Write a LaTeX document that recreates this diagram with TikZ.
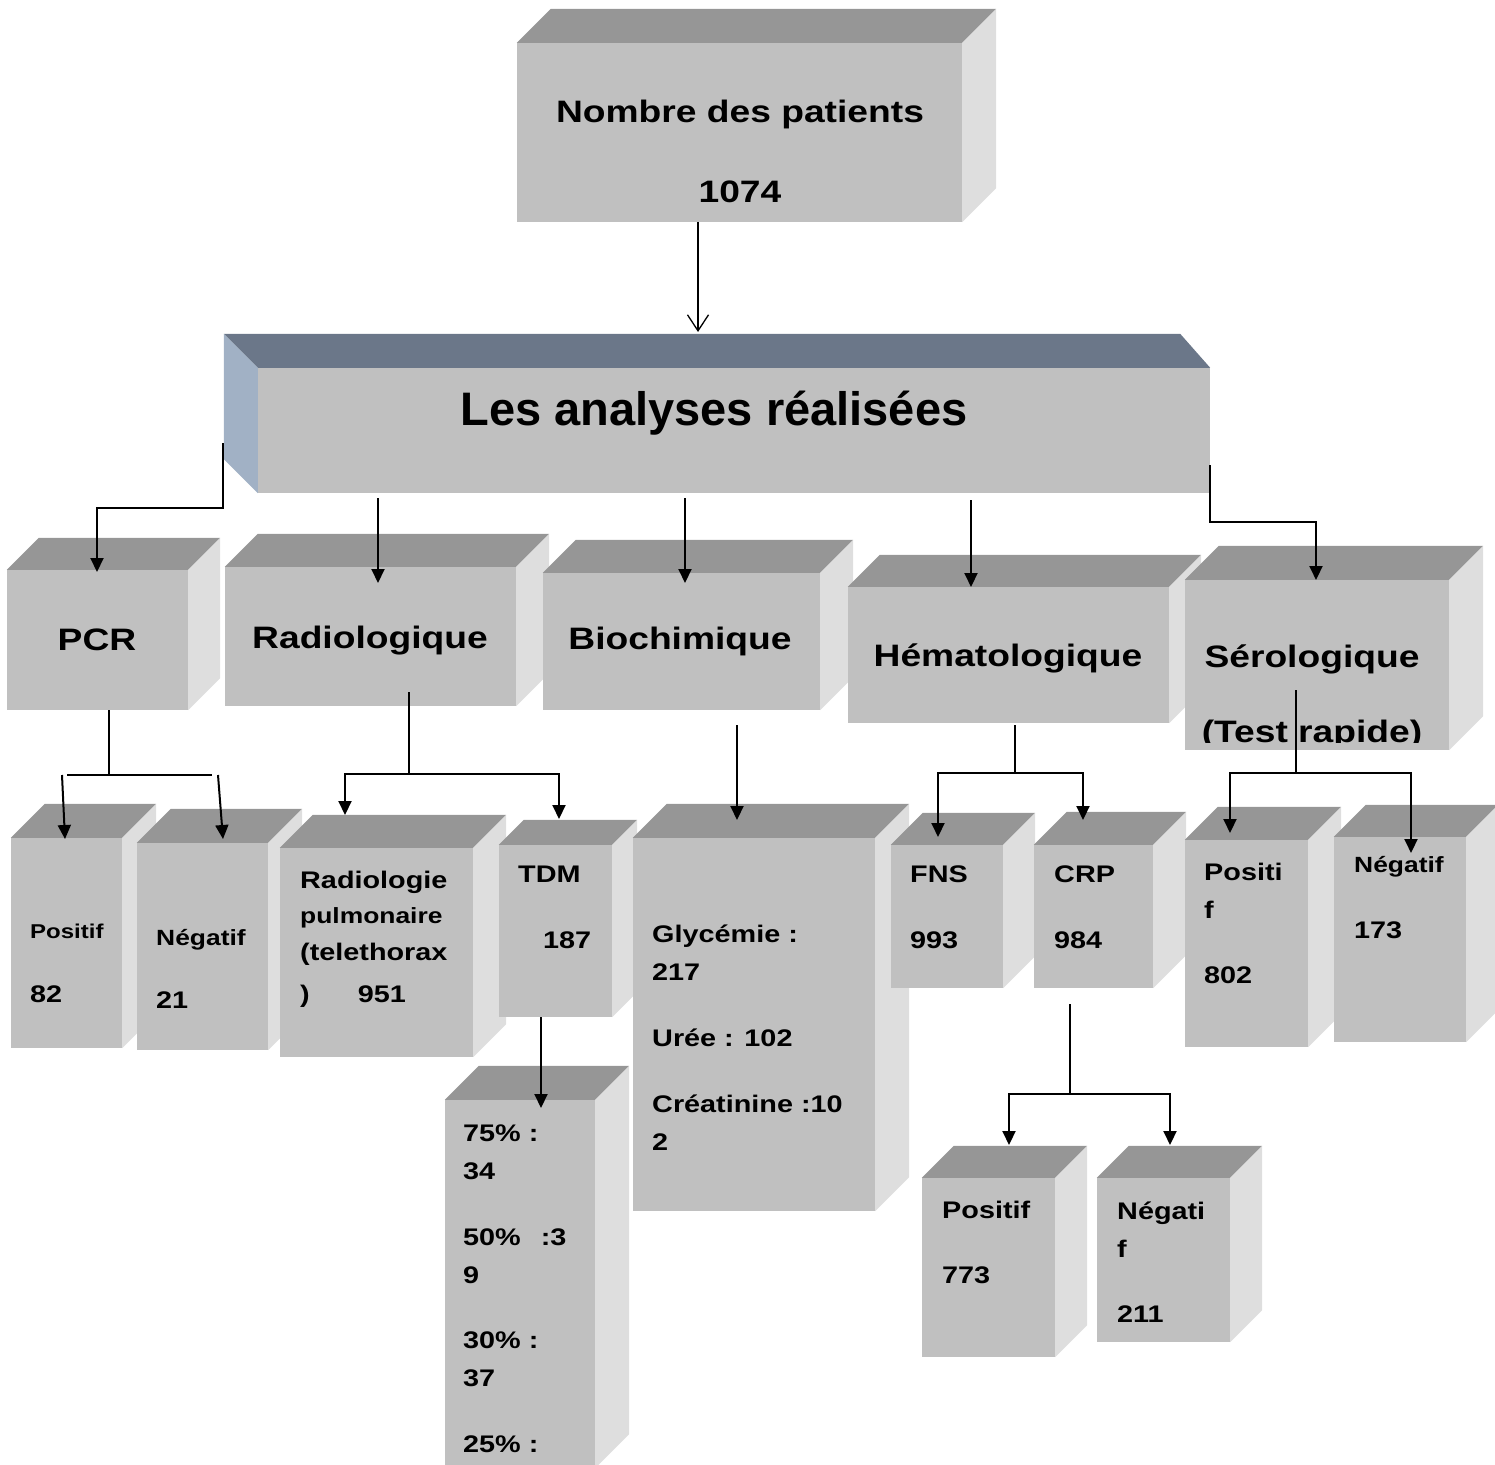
\documentclass[tikz,border=0pt]{standalone}
\usepackage{fontspec}
\setmainfont{Liberation Sans}[FakeStretch=1.2]
\newfontfamily\titlefont{Liberation Sans}
\usetikzlibrary{arrows.meta,calc}

\definecolor{frontgray}{HTML}{C0C0C0}
\definecolor{topgray}{HTML}{969696}
\definecolor{sidegray}{HTML}{DEDEDE}
\definecolor{slatetop}{HTML}{6B7789}
\definecolor{slateside}{HTML}{A1B1C5}

% 3d block: front face is the node, top and right faces follow it
\newcommand{\cubebox}[6]{%
  \node[face,minimum width={(#4-#2)*1pt},minimum height={(#5-#3)*1pt}] (#1) at ({(#2+#4)/2},{(#3+#5)/2}) {};
  \fill[topgray] (#1.north west) -- ++(#6,-#6) -- ([shift={(#6,-#6)}]#1.north east) -- (#1.north east) -- cycle;
  \fill[sidegray] (#1.north east) -- ++(#6,-#6) -- ([shift={(#6,-#6)}]#1.south east) -- (#1.south east) -- cycle;
}

\begin{document}
\begin{tikzpicture}[
  x=1pt,y=-1pt,
  face/.style={fill=frontgray,draw=none,inner sep=0pt},
  txt/.style={inner sep=0pt,align=left,anchor=base west},
  ttl/.style={inner sep=0pt,anchor=base,font=\titlefont\bfseries\fontsize{47}{56}\selectfont},
  hd/.style={inner sep=0pt,anchor=base,align=center,font=\bfseries\fontsize{31}{37}\selectfont},
  lb/.style={txt,font=\bfseries\fontsize{24}{38}\selectfont},
  ln/.style={line width=2pt},
  arr/.style={ln,-{Triangle[length=14pt,width=13pt]}},
  varr/.style={line width=1.3pt,-{Straight Barb[length=16pt,width=21pt]}}
]
\clip (0,0) rectangle (1495,1464);

% ---- top block ----
\cubebox{top}{517}{43}{962}{222}{34}
\node[hd] (tTop) at (740,202) {Nombre des patients\\[43pt]1074};

% ---- main block (depth to the left) ----
\node[face,minimum width=952pt,minimum height=125pt] (main) at (734,430.5) {};
\fill[slatetop] (main.north west) -- ++(-34,-34) -- ([shift={(-30,-34)}]main.north east) -- (main.north east) -- cycle;
\fill[slateside] (main.north west) -- ++(-34,-34) -- ([shift={(-34,-34)}]main.south west) -- (main.south west) -- cycle;
\node[ttl] (tMain) at (714,425) {Les analyses réalisées};

% ---- analyses ----
\cubebox{pcr}{7}{570}{188}{710}{32}
\cubebox{radio}{225}{567}{516}{706}{33}
\cubebox{bioc}{543}{573}{820}{710}{33}
\cubebox{hem}{848}{587}{1169}{723}{32}
\cubebox{ser}{1185}{580}{1449}{750}{34}
\node[hd] (tPcr) at (97,650) {PCR};
\node[hd] (tRad) at (370,648) {Radiologique};
\node[hd] (tBioc) at (680,649) {Biochimique};
\node[hd] (tHem) at (1008,666) {Hématologique};
\begin{scope}
  \clip (ser.north west) rectangle ([yshift=8pt]ser.south east);
  \node[hd] (tSer) at (1312,742) {Sérologique\\[38pt](Test rapide)};
\end{scope}

% ---- results ----
\cubebox{pos1}{11}{838}{122}{1048}{34}
\cubebox{neg1}{137}{843}{268}{1050}{34}
\cubebox{rpul}{280}{848}{473}{1057}{33}
\cubebox{tdm}{499}{845}{612}{1017}{25}
\cubebox{pct}{445}{1100}{595}{1468}{34}
\cubebox{bio}{633}{838}{875}{1211}{34}
\cubebox{fns}{891}{845}{1003}{988}{32}
\cubebox{crp}{1034}{845}{1153}{988}{33}
\cubebox{pos2}{1185}{840}{1308}{1047}{33}
\cubebox{neg2}{1334}{837}{1466}{1042}{32}
\cubebox{pos3}{922}{1178}{1055}{1357}{32}
\cubebox{neg3}{1097}{1178}{1230}{1342}{32}

\node[lb] (tPos1) at (30,1002) {{\fontsize{20}{38}\selectfont Positif}\\[26pt]82};
\node[lb] (tNeg1) at (156,1008) {{\fontsize{22}{38}\selectfont Négatif}\\[25pt]21};
\node[lb] (tRpul) at (300,1002) {Radiologie\\[-3pt]{\fontsize{22}{38}\selectfont pulmonaire}\\[-1pt](telethorax\\[4pt])\hspace{48pt}951};
\node[lb] (tTdm) at (518,948) {TDM\\[28pt]\hspace{25pt}187};
\node[lb] (tPct) at (463,1452) {75\% :\\34\\[28pt]50\%\hspace{20pt}:3\\9\\[27pt]30\% :\\37\\[28pt]25\% :};
\node[lb] (tBio) at (652,1150) {Glycémie :\\217\\[28pt]Urée : 102\\[28pt]Créatinine :10\\2};
\node[lb] (tFns) at (910,948) {FNS\\[28pt]993};
\node[lb] (tCrp) at (1054,948) {CRP\\[28pt]984};
\node[lb] (tPos2) at (1204,983) {Positi\\f\\[27pt]802};
\node[lb] (tNeg2) at (1354,938) {{\fontsize{22}{38}\selectfont Négatif}\\[28pt]173};
\node[lb] (tPos3) at (942,1283) {Positif\\[27pt]773};
\node[lb] (tNeg3) at (1117,1322) {Négati\\f\\[27pt]211};

% ---- connectors ----
\coordinate (aTop) at (698,332);
\draw[varr] (aTop |- top.south) -- (aTop);

\coordinate (sPcr) at (223,443);
\coordinate (aPcr) at (97,572);
\draw[arr] (sPcr) -- ++(0,65) -| (aPcr);
\coordinate (aRad) at (378,583);
\draw[arr] ([yshift=-5pt]aRad |- main.south) -- (aRad);
\coordinate (aBioc) at (685,583);
\draw[arr] ([yshift=-5pt]aBioc |- main.south) -- (aBioc);
\coordinate (aHem) at (971,587);
\draw[arr] ([yshift=-7pt]aHem |- main.south) -- (aHem);
\coordinate (sSer) at (1210,465);
\coordinate (aSer) at (1316,580);
\draw[arr] (sSer) -- ++(0,57) -| (aSer);

% pcr
\coordinate (jPcr) at (109,775);
\coordinate (hPcrL) at (67,775);
\coordinate (hPcrR) at (212,775);
\coordinate (aPos1) at (65,839);
\coordinate (aNeg1) at (223,839);
\draw[ln] (jPcr |- pcr.south) -- (jPcr);
\draw[ln] (hPcrL) -- (hPcrR);
\draw[arr] ([xshift=-5pt]hPcrL) -- (aPos1);
\draw[arr] ([xshift=6pt]hPcrR) -- (aNeg1);

% radiologique
\coordinate (jRad) at (409,774);
\coordinate (aRpul) at (345,815);
\coordinate (aTdm) at (559,819);
\draw[ln] ([yshift=14pt]jRad |- radio.south) -- (jRad);
\draw[arr] (jRad) -| (aRpul);
\draw[arr] (jRad) -| (aTdm);
\coordinate (aPct) at (541,1108);
\draw[arr] (aPct |- tdm.south) -- (aPct);

% biochimique
\coordinate (aBio) at (737,820);
\draw[arr] ([yshift=-15pt]aBio |- bioc.south) -- (aBio);

% hematologique
\coordinate (jHem) at (1015,773);
\coordinate (aFns) at (938,837);
\coordinate (aCrp) at (1083,820);
\draw[ln] ([yshift=-2pt]jHem |- hem.south) -- (jHem);
\draw[arr] (jHem) -| (aFns);
\draw[arr] (jHem) -| (aCrp);

% serologique
\coordinate (jSer) at (1296,773);
\coordinate (aPos2) at (1230,833);
\coordinate (aNeg2) at (1411,853);
\draw[ln] ([yshift=60pt]jSer |- ser.south) -- (jSer);
\draw[arr] (jSer) -| (aPos2);
\draw[arr] (jSer) -| (aNeg2);

% crp
\coordinate (jCrp) at (1070,1094);
\coordinate (aPos3) at (1009,1145);
\coordinate (aNeg3) at (1170,1145);
\draw[ln] ([yshift=-16pt]jCrp |- crp.south) -- (jCrp);
\draw[arr] (jCrp) -| (aPos3);
\draw[arr] (jCrp) -| (aNeg3);

\end{tikzpicture}
\end{document}
